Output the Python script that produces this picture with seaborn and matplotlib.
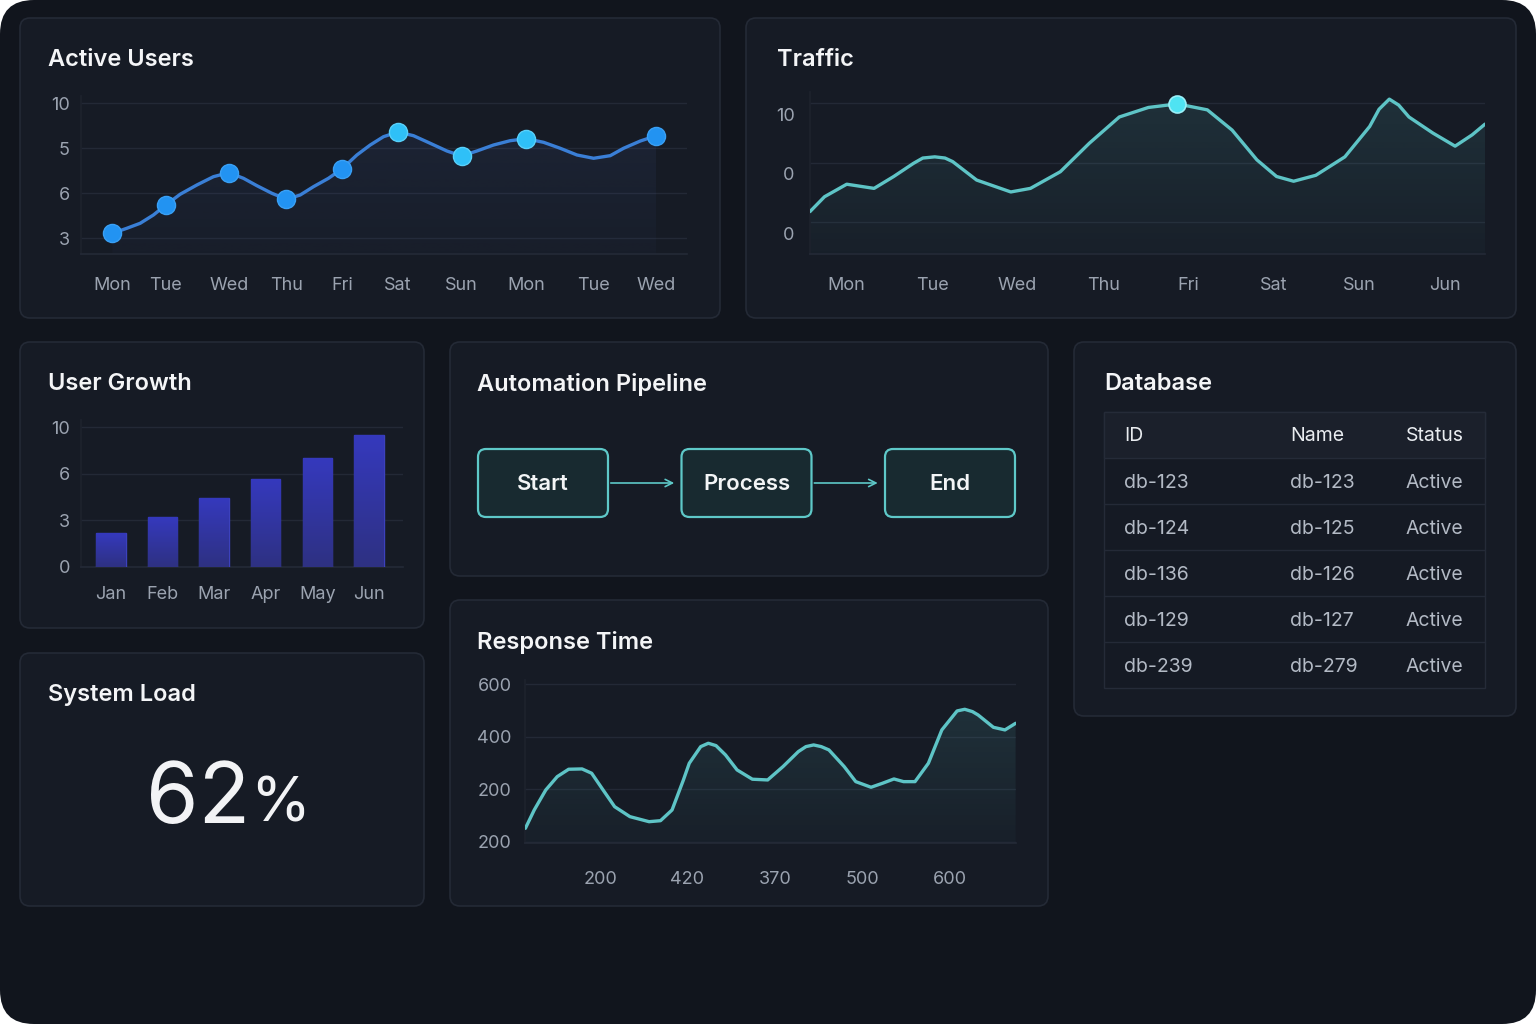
import numpy as np
import pandas as pd
import matplotlib
matplotlib.use('Agg')
import matplotlib.pyplot as plt
import seaborn as sns
from matplotlib.patches import FancyBboxPatch, Rectangle, FancyArrowPatch
from matplotlib.transforms import ScaledTranslation
from matplotlib.colors import to_rgb

# ---------------- data ----------------
au_days = ['Mon', 'Tue', 'Wed', 'Thu', 'Fri', 'Sat', 'Sun', 'Mon', 'Tue', 'Wed']
au_pos = [0, 0.884, 1.927, 2.881, 3.798, 4.725, 5.778, 6.844, 7.964, 9.002]
au_marks = [1.111, 1.740, 2.458, 1.867, 2.540, 3.362, 2.829, 3.213, np.nan, 3.280]
au_mark_hi = [0, 0, 0, 0, 0, 1, 1, 1, 0, 0]
au_curve_x = [0.000, 0.238, 0.459, 0.679, 0.884, 1.121, 1.397, 1.672, 1.927, 2.169,
              2.391, 2.639, 2.881, 3.108, 3.328, 3.576, 3.798, 4.046, 4.267, 4.487,
              4.725, 4.983, 5.260, 5.536, 5.778, 6.033, 6.308, 6.584, 6.844, 7.136,
              7.412, 7.689, 7.964, 8.240, 8.460, 8.738, 9.002]
au_curve_y = [1.111, 1.222, 1.333, 1.518, 1.740, 1.978, 2.184, 2.369, 2.458, 2.333,
              2.169, 2.000, 1.867, 1.962, 2.147, 2.333, 2.540, 2.851, 3.073, 3.258,
              3.362, 3.280, 3.111, 2.940, 2.829, 2.940, 3.073, 3.169, 3.213, 3.133,
              3.000, 2.851, 2.778, 2.836, 3.000, 3.162, 3.280]
au_ylabels = ['3', '6', '5', '10']

traffic_days = ['Mon', 'Tue', 'Wed', 'Thu', 'Fri', 'Sat', 'Sun', 'Jun']
traffic_x = [-0.43, -0.26, 0.0, 0.32, 0.55, 0.78, 0.89, 1.03, 1.15, 1.24, 1.52, 1.92,
             2.15, 2.50, 2.84, 3.19, 3.53, 3.87, 4.22, 4.51, 4.80, 5.03, 5.23, 5.49,
             5.83, 6.12, 6.23, 6.35, 6.46, 6.58, 6.86, 7.12, 7.32, 7.47]
traffic_y = [0.18, 0.43, 0.64, 0.57, 0.77, 0.99, 1.08, 1.10, 1.08, 1.02, 0.71, 0.51,
             0.57, 0.85, 1.33, 1.77, 1.93, 1.99, 1.89, 1.55, 1.05, 0.77, 0.69, 0.79,
             1.10, 1.61, 1.90, 2.07, 1.97, 1.77, 1.50, 1.28, 1.47, 1.65]
traffic_peak_x = [3.87]
traffic_peak_y = [1.99]
traffic_ylabels = ['0', '0', '10']

growth_months = ['Jan', 'Feb', 'Mar', 'Apr', 'May', 'Jun']
growth_vals = [0.72, 1.06, 1.48, 1.89, 2.33, 2.83]
growth_ylabels = ['0', '3', '6', '10']

resp_xlabels = ['200', '420', '370', '500', '600']
resp_ylabels = ['200', '200', '400', '600']
resp_x = [-0.854, -0.753, -0.621, -0.490, -0.359, -0.206, -0.096, 0.035, 0.167, 0.342,
          0.561, 0.692, 0.824, 0.954, 1.021, 1.152, 1.239, 1.327, 1.436, 1.568,
          1.743, 1.918, 2.093, 2.269, 2.356, 2.444, 2.531, 2.619, 2.794, 2.926,
          3.101, 3.232, 3.363, 3.473, 3.604, 3.757, 3.911, 4.064, 4.086, 4.173,
          4.261, 4.326, 4.501, 4.633, 4.755]
resp_y = [0.255, 0.604, 0.985, 1.239, 1.380, 1.386, 1.304, 0.985, 0.667, 0.477,
          0.381, 0.400, 0.604, 1.176, 1.494, 1.811, 1.875, 1.830, 1.652, 1.367,
          1.190, 1.176, 1.430, 1.716, 1.811, 1.843, 1.811, 1.748, 1.430, 1.144,
          1.037, 1.113, 1.195, 1.144, 1.144, 1.494, 2.129, 2.446, 2.491, 2.522,
          2.478, 2.414, 2.179, 2.129, 2.255]

pipeline_steps = ['Start', 'Process', 'End']
system_load = 62

db_cols = ['ID', 'Name', 'Status']
db_ids = ['db-123', 'db-124', 'db-136', 'db-129', 'db-239']
db_names = ['db-123', 'db-125', 'db-126', 'db-127', 'db-279']
db_status = ['Active', 'Active', 'Active', 'Active', 'Active']

# ---------------- style ----------------
W, H = 1536, 1024
BG = '#11151d'
CARD = '#161b25'
CARD_EDGE = '#242a36'
GRID = '#232936'
TICK = '#9ba3b0'
TEAL = '#5ec4c6'

sns.set_theme(style='dark', rc={'axes.facecolor': 'none', 'figure.facecolor': 'white'})
plt.rcParams['font.family'] = ['Inter', 'DejaVu Sans']

fig = plt.figure(figsize=(W / 100, H / 100), dpi=100)

bg = fig.add_axes([0, 0, 1, 1], zorder=0)
bg.set_xlim(0, W)
bg.set_ylim(H, 0)
bg.axis('off')
bg.add_patch(FancyBboxPatch((0, 0), W, H, boxstyle='round,pad=0,rounding_size=34',
                            fc=BG, ec='none'))


def card(x0, y0, x1, y1, title, tx, ty):
    bg.add_patch(FancyBboxPatch((x0, y0), x1 - x0, y1 - y0,
                                boxstyle='round,pad=0,rounding_size=10',
                                fc=CARD, ec=CARD_EDGE, lw=1.2))
    bg.text(tx, ty, title, color='#f4f5f7', fontsize=17, fontweight='semibold',
            va='center', ha='left')


card(20, 18, 720, 318, 'Active Users', 48, 60)
card(746, 18, 1516, 318, 'Traffic', 777, 60)
card(20, 342, 424, 628, 'User Growth', 48, 384)
card(450, 342, 1048, 576, 'Automation Pipeline', 477, 384)
card(1074, 342, 1516, 716, 'Database', 1104, 384)
card(20, 653, 424, 906, 'System Load', 48, 695)
card(450, 600, 1048, 906, 'Response Time', 477, 642)


def px_axes(x0, y0, x1, y1):
    return fig.add_axes([x0 / W, 1 - y1 / H, (x1 - x0) / W, (y1 - y0) / H], zorder=2)


def style(ax, xpad, ypad):
    ax.set_facecolor('none')
    ax.grid(axis='y', color=GRID, lw=1)
    ax.grid(axis='x', visible=False)
    for s in ['top', 'right']:
        ax.spines[s].set_visible(False)
    ax.spines['left'].set_color('#1d222d')
    ax.spines['bottom'].set_color(GRID)
    ax.tick_params(axis='x', colors=TICK, labelsize=13, length=0, pad=xpad)
    ax.tick_params(axis='y', colors=TICK, labelsize=13, length=0, pad=ypad)
    ax.set_xlabel('')
    ax.set_ylabel('')


def gradient_fill(ax, x, y, ybottom, color, a_top, a_bot):
    poly = ax.fill_between(x, y, ybottom, color='none', lw=0)
    rgb = to_rgb(color)
    grad = np.zeros((100, 1, 4))
    grad[:, 0, :3] = rgb
    grad[:, 0, 3] = np.linspace(a_bot, a_top, 100)
    im = ax.imshow(grad, extent=[min(x), max(x), ybottom, max(y)], origin='lower',
                   aspect='auto', zorder=1)
    im.set_clip_path(poly.get_paths()[0], transform=ax.transData)


line_kw = dict(lw=2.4, solid_joinstyle='round', solid_capstyle='round', zorder=3)

# ---------------- Active Users ----------------
ax = px_axes(81, 96, 687, 254.3)
gradient_fill(ax, au_curve_x, au_curve_y, 0.644, '#5a7bd0', 0.09, 0.03)
sns.lineplot(x=au_curve_x, y=au_curve_y, ax=ax, color='#3a7fd6', **line_kw)
mk = pd.DataFrame({'x': au_pos, 'y': au_marks, 'hi': au_mark_hi}).dropna()
sns.scatterplot(data=mk[mk.hi == 0], x='x', y='y', ax=ax, color='#2293f2', s=170,
                edgecolor='#3aa0f5', linewidth=1, zorder=4)
sns.scatterplot(data=mk[mk.hi == 1], x='x', y='y', ax=ax, color='#2fc0f7', s=170,
                edgecolor='#58d0fa', linewidth=1, zorder=4)
ax.set_xlim(-0.52, 9.51)
ax.set_ylim(0.644, 4.162)
ax.set_xticks(au_pos)
ax.set_xticklabels(au_days)
ax.set_yticks([1, 2, 3, 4])
ax.set_yticklabels(au_ylabels)
style(ax, 16, 8)

# ---------------- Traffic ----------------
ax = px_axes(810, 92, 1485, 254.3)
gradient_fill(ax, traffic_x, traffic_y, -0.538, TEAL, 0.13, 0.03)
sns.lineplot(x=traffic_x, y=traffic_y, ax=ax, color=TEAL, **line_kw)
sns.scatterplot(x=traffic_peak_x, y=traffic_peak_y, ax=ax, color='#4fe3f2', s=150,
                edgecolor='#9af0f8', linewidth=1.2, zorder=4)
ax.set_xlim(-0.43, 7.47)
ax.set_ylim(-0.538, 2.19)
ax.set_xticks(range(len(traffic_days)))
ax.set_xticklabels(traffic_days)
ax.set_yticks([0, 1, 2])
ax.set_yticklabels(traffic_ylabels)
style(ax, 16, 11)
shift = ScaledTranslation(0, -0.11, fig.dpi_scale_trans)
for lbl in ax.get_yticklabels():
    lbl.set_transform(lbl.get_transform() + shift)

# ---------------- User Growth ----------------
ax = px_axes(81, 420, 403, 566.7)
sns.barplot(x=growth_months, y=growth_vals, ax=ax, color='#3337a8', width=0.57,
            edgecolor='#3c41bd', linewidth=1, zorder=3)
top_c = np.array(to_rgb('#3539bd'))
bot_c = np.array(to_rgb('#2e3182'))
grad = np.zeros((100, 1, 3))
for k in range(3):
    grad[:, 0, k] = np.linspace(bot_c[k], top_c[k], 100)
for p in ax.patches:
    x0, w, h = p.get_x(), p.get_width(), p.get_height()
    im = ax.imshow(grad, extent=[x0, x0 + w, 0, h], origin='lower', aspect='auto', zorder=3.5)
    im.set_clip_path(p)
ax.set_xlim(-0.58, 5.66)
ax.set_ylim(0, 3.157)
ax.set_yticks([0, 1, 2, 3])
ax.set_yticklabels(growth_ylabels)
style(ax, 14, 8)

# ---------------- Response Time ----------------
ax = px_axes(525.4, 680, 1015.6, 843)
gradient_fill(ax, resp_x, resp_y, -0.025, TEAL, 0.13, 0.03)
sns.lineplot(x=resp_x, y=resp_y, ax=ax, color=TEAL, **line_kw)
ax.set_xlim(-0.854, 4.755)
ax.set_ylim(-0.025, 3.08)
ax.set_xticks(range(len(resp_xlabels)))
ax.set_xticklabels(resp_xlabels)
ax.set_yticks([0, 1, 2, 3])
ax.set_yticklabels(resp_ylabels)
style(ax, 20, 10)

# ---------------- Automation Pipeline ----------------
for i, step in enumerate(pipeline_steps):
    x0 = 478 + i * 203.5
    bg.add_patch(FancyBboxPatch((x0, 449), 130, 68, boxstyle='round,pad=0,rounding_size=8',
                                fc='#182a30', ec='#5ec8c8', lw=1.6, zorder=2))
    bg.text(x0 + 65, 484, step, color='#f3f5f6', fontsize=16, fontweight='semibold',
            ha='center', va='center', zorder=3)
    if i < len(pipeline_steps) - 1:
        bg.add_patch(FancyArrowPatch((x0 + 130, 483), (x0 + 199, 483), arrowstyle='->',
                                     mutation_scale=13, color='#5ec8c8', lw=1.2, zorder=2))

# ---------------- Database ----------------
tx0, tx1, ty0, row_h = 1104, 1485, 412, 46
n_rows = len(db_ids)
bg.add_patch(Rectangle((tx0, ty0), tx1 - tx0, row_h * (n_rows + 1), fc='#151a24',
                       ec='#252b38', lw=1, zorder=2))
bg.add_patch(Rectangle((tx0, ty0), tx1 - tx0, row_h, fc='#1b202b', ec='#252b38',
                       lw=1, zorder=2))
col_x = [1124, 1290, 1406]
for c, name in enumerate(db_cols):
    bg.text(col_x[c], ty0 + row_h / 2 + 1, name, color='#e9ecf0', fontsize=14,
            ha='left', va='center', zorder=3)
for r in range(n_rows):
    yc = ty0 + row_h * (r + 1.5) + 2
    if r > 0:
        bg.plot([tx0, tx1], [ty0 + row_h * (r + 1)] * 2, color='#242a37', lw=1, zorder=3)
    for c, val in enumerate([db_ids[r], db_names[r], db_status[r]]):
        bg.text(col_x[c], yc, val, color='#b3bac5', fontsize=14, ha='left',
                va='center', zorder=3)

# ---------------- System Load ----------------
bg.text(250, 823, str(system_load), color='#f2f3f5', fontsize=61, ha='right',
        va='baseline', zorder=3)
bg.text(250, 822, '%', color='#f2f3f5', fontsize=44, ha='left', va='baseline', zorder=3)

fig.savefig('out.png', dpi=100, facecolor='white')
